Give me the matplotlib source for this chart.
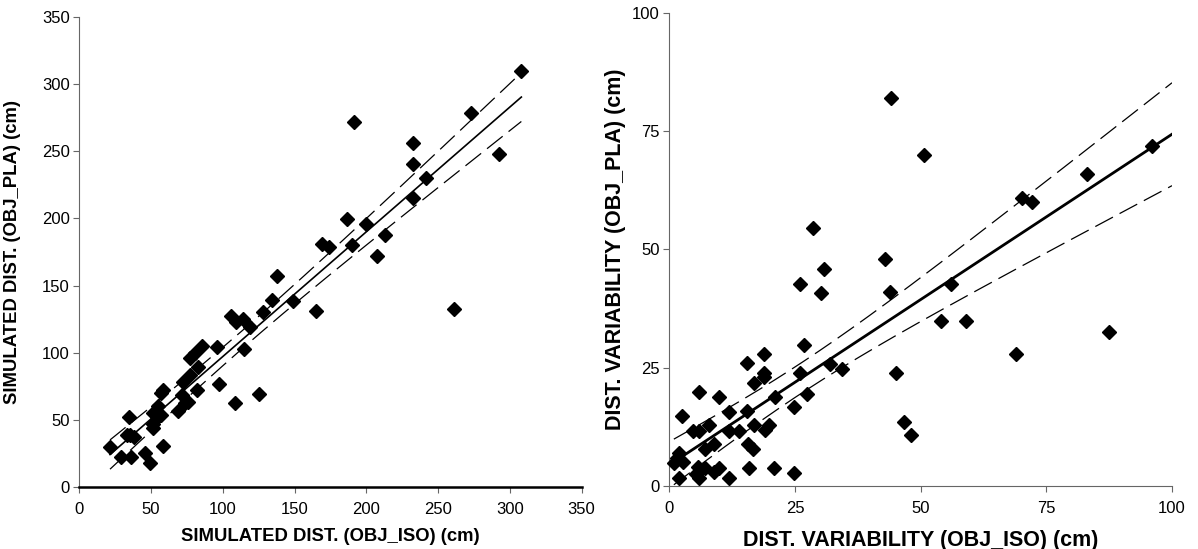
import matplotlib
matplotlib.use("Agg")
import matplotlib.pyplot as plt
import numpy as np

plt.rcParams["font.family"] = ["Liberation Sans", "DejaVu Sans"]

# left panel: simulated distance, OBJ_ISO vs OBJ_PLA (cm)
sim_iso = [21.4, 29, 36, 34.6, 33, 35.3, 38.3, 45.5, 49.2, 58, 51.5, 51,
           51.5, 55, 57, 54, 56.7, 58, 68.5, 71.3, 73.5, 75.9, 72.4, 77,
           77, 80.6, 85.2, 82.4, 81.7, 95.7, 97.5, 108.4, 106, 109, 114.2,
           118.9, 115, 125, 127.7, 134, 137.9, 149, 164.6, 168.8, 174.1,
           189.7, 191.3, 232.6, 232.6, 241.4, 232.6, 272.8, 308, 292.3,
           186.2, 200.1, 212.9, 207.1, 260.8]
sim_pla = [29.5, 22.6, 22.6, 52.4, 39, 38.7, 37.5, 25.5, 18, 30.5, 43.7, 47,
           55, 60, 54, 52, 70, 72, 56.6, 68.5, 62.3, 63.5, 78.4, 83.4,
           95.8, 99.5, 105, 89.6, 72.2, 104.5, 76.7, 62.3, 127.3, 123, 124.9,
           119.4, 102.5, 69.2, 130.5, 139.2, 157, 138.7, 131.3, 181, 179,
           180.2, 271.5, 255.9, 240.5, 229.9, 215, 278.7, 310, 248,
           199.6, 195.8, 187.6, 172.3, 132.5]
# regression line: [slope, intercept]
sim_fit = [0.929, 4.3]

# right panel: distance variability, OBJ_ISO vs OBJ_PLA (cm)
var_iso = [30.8, 26, 30.1, 26.8, 18.9, 15.5, 26, 31.9, 34.3, 18.9, 18.9,
           16.9, 21, 27.3, 24.9, 6, 9.9, 2.5, 11.9, 15.5, 7.9, 4.8, 5.9,
           11.9, 13.9, 16.9, 19, 19.9, 15.7, 16.7, 8.9, 7, 2, 1.5, 2.8, 0.9,
           5.8, 7, 8.9, 9.9, 2, 5.3, 6, 11.9, 15.8, 20.9, 24.9, 42.9, 43.9,
           56, 54, 59, 68.9, 45.1, 46.7, 48, 44, 50.6, 28.6, 70.1, 72.2,
           83.1, 96, 87.4]
var_pla = [45.8, 42.8, 40.8, 29.8, 27.8, 25.9, 23.8, 25.7, 24.7, 23.9, 23.1,
           21.7, 18.8, 19.5, 16.7, 19.8, 18.8, 14.7, 15.7, 15.8, 12.8, 11.6,
           11.6, 11.6, 11.6, 12.8, 11.8, 12.8, 8.8, 7.7, 8.8, 7.7, 6.9, 5.8,
           5.1, 4.9, 4, 3.7, 3, 3.7, 1.7, 2.5, 1.6, 1.7, 3.7, 3.7, 2.7, 47.9,
           40.9, 42.8, 34.8, 34.8, 27.8, 23.8, 13.4, 10.7, 82, 70.1, 54.6,
           60.9, 60, 65.9, 71.9, 32.5]
var_fit = [0.70, 4.4]


def line_with_band(x, y, fit, x_line):
    # 95% confidence band of the mean around the given regression line
    x = np.asarray(x, dtype=float)
    y = np.asarray(y, dtype=float)
    slope, intercept = fit
    resid = y - (slope * x + intercept)
    n = len(x)
    s = np.sqrt(np.sum(resid ** 2) / (n - 2))
    sxx = np.sum((x - x.mean()) ** 2)
    se = s * np.sqrt(1.0 / n + (x_line - x.mean()) ** 2 / sxx)
    y_line = slope * x_line + intercept
    return y_line, y_line - 1.96 * se, y_line + 1.96 * se


def draw_panel(ax, x, y, fit, x_line, lw_fit, xlabel, ylabel, label_size,
               xlabelpad, ylabelpad):
    y_line, lo, hi = line_with_band(x, y, fit, x_line)
    ax.plot(x_line, y_line, color="black", lw=lw_fit, zorder=2)
    ax.plot(x_line, lo, color="black", lw=0.9, dashes=(16, 6), zorder=2)
    ax.plot(x_line, hi, color="black", lw=0.9, dashes=(16, 6), zorder=2)
    ax.plot(x, y, linestyle="none", marker="D", markersize=7,
            color="black", zorder=3, clip_on=False)

    for side in ["top", "right"]:
        ax.spines[side].set_visible(False)
    ax.spines["left"].set_color("#666666")
    ax.tick_params(direction="out", length=4, width=0.8, color="#666666",
                   labelsize=12)
    ax.tick_params(axis="x", pad=7)
    ax.tick_params(axis="y", pad=3)
    ax.set_xlabel(xlabel, fontsize=label_size, fontweight="bold", labelpad=xlabelpad)
    ax.set_ylabel(ylabel, fontsize=label_size, fontweight="bold", labelpad=ylabelpad)


fig = plt.figure(figsize=(11.98, 5.49), dpi=100)

ax1 = fig.add_axes([0.0662, 0.1129, 0.4193, 0.856])
x_line1 = np.linspace(min(sim_iso), max(sim_iso), 200)
draw_panel(ax1, sim_iso, sim_pla, sim_fit, x_line1, 1.2,
           "SIMULATED DIST. (OBJ_ISO) (cm)", "SIMULATED DIST. (OBJ_PLA) (cm)",
           13.3, 8, 15)
ax1.set_xlim(0, 350)
ax1.set_ylim(0, 350)
ax1.set_xticks(np.arange(0, 351, 50))
ax1.set_yticks(np.arange(0, 351, 50))
ax1.spines["bottom"].set_linewidth(1.8)
ax1.spines["bottom"].set_color("black")

ax2 = fig.add_axes([0.5587, 0.1153, 0.4196, 0.8605])
x_line2 = np.linspace(min(var_iso), 100, 200)
draw_panel(ax2, var_iso, var_pla, var_fit, x_line2, 2.0,
           "DIST. VARIABILITY (OBJ_ISO) (cm)", "DIST. VARIABILITY (OBJ_PLA) (cm)",
           15.5, 10, 4)
ax2.set_xlim(0, 100)
ax2.set_ylim(0, 100)
ax2.set_xticks(np.arange(0, 101, 25))
ax2.set_yticks(np.arange(0, 101, 25))
ax2.spines["bottom"].set_color("#666666")

fig.savefig("out.png", dpi=100)
